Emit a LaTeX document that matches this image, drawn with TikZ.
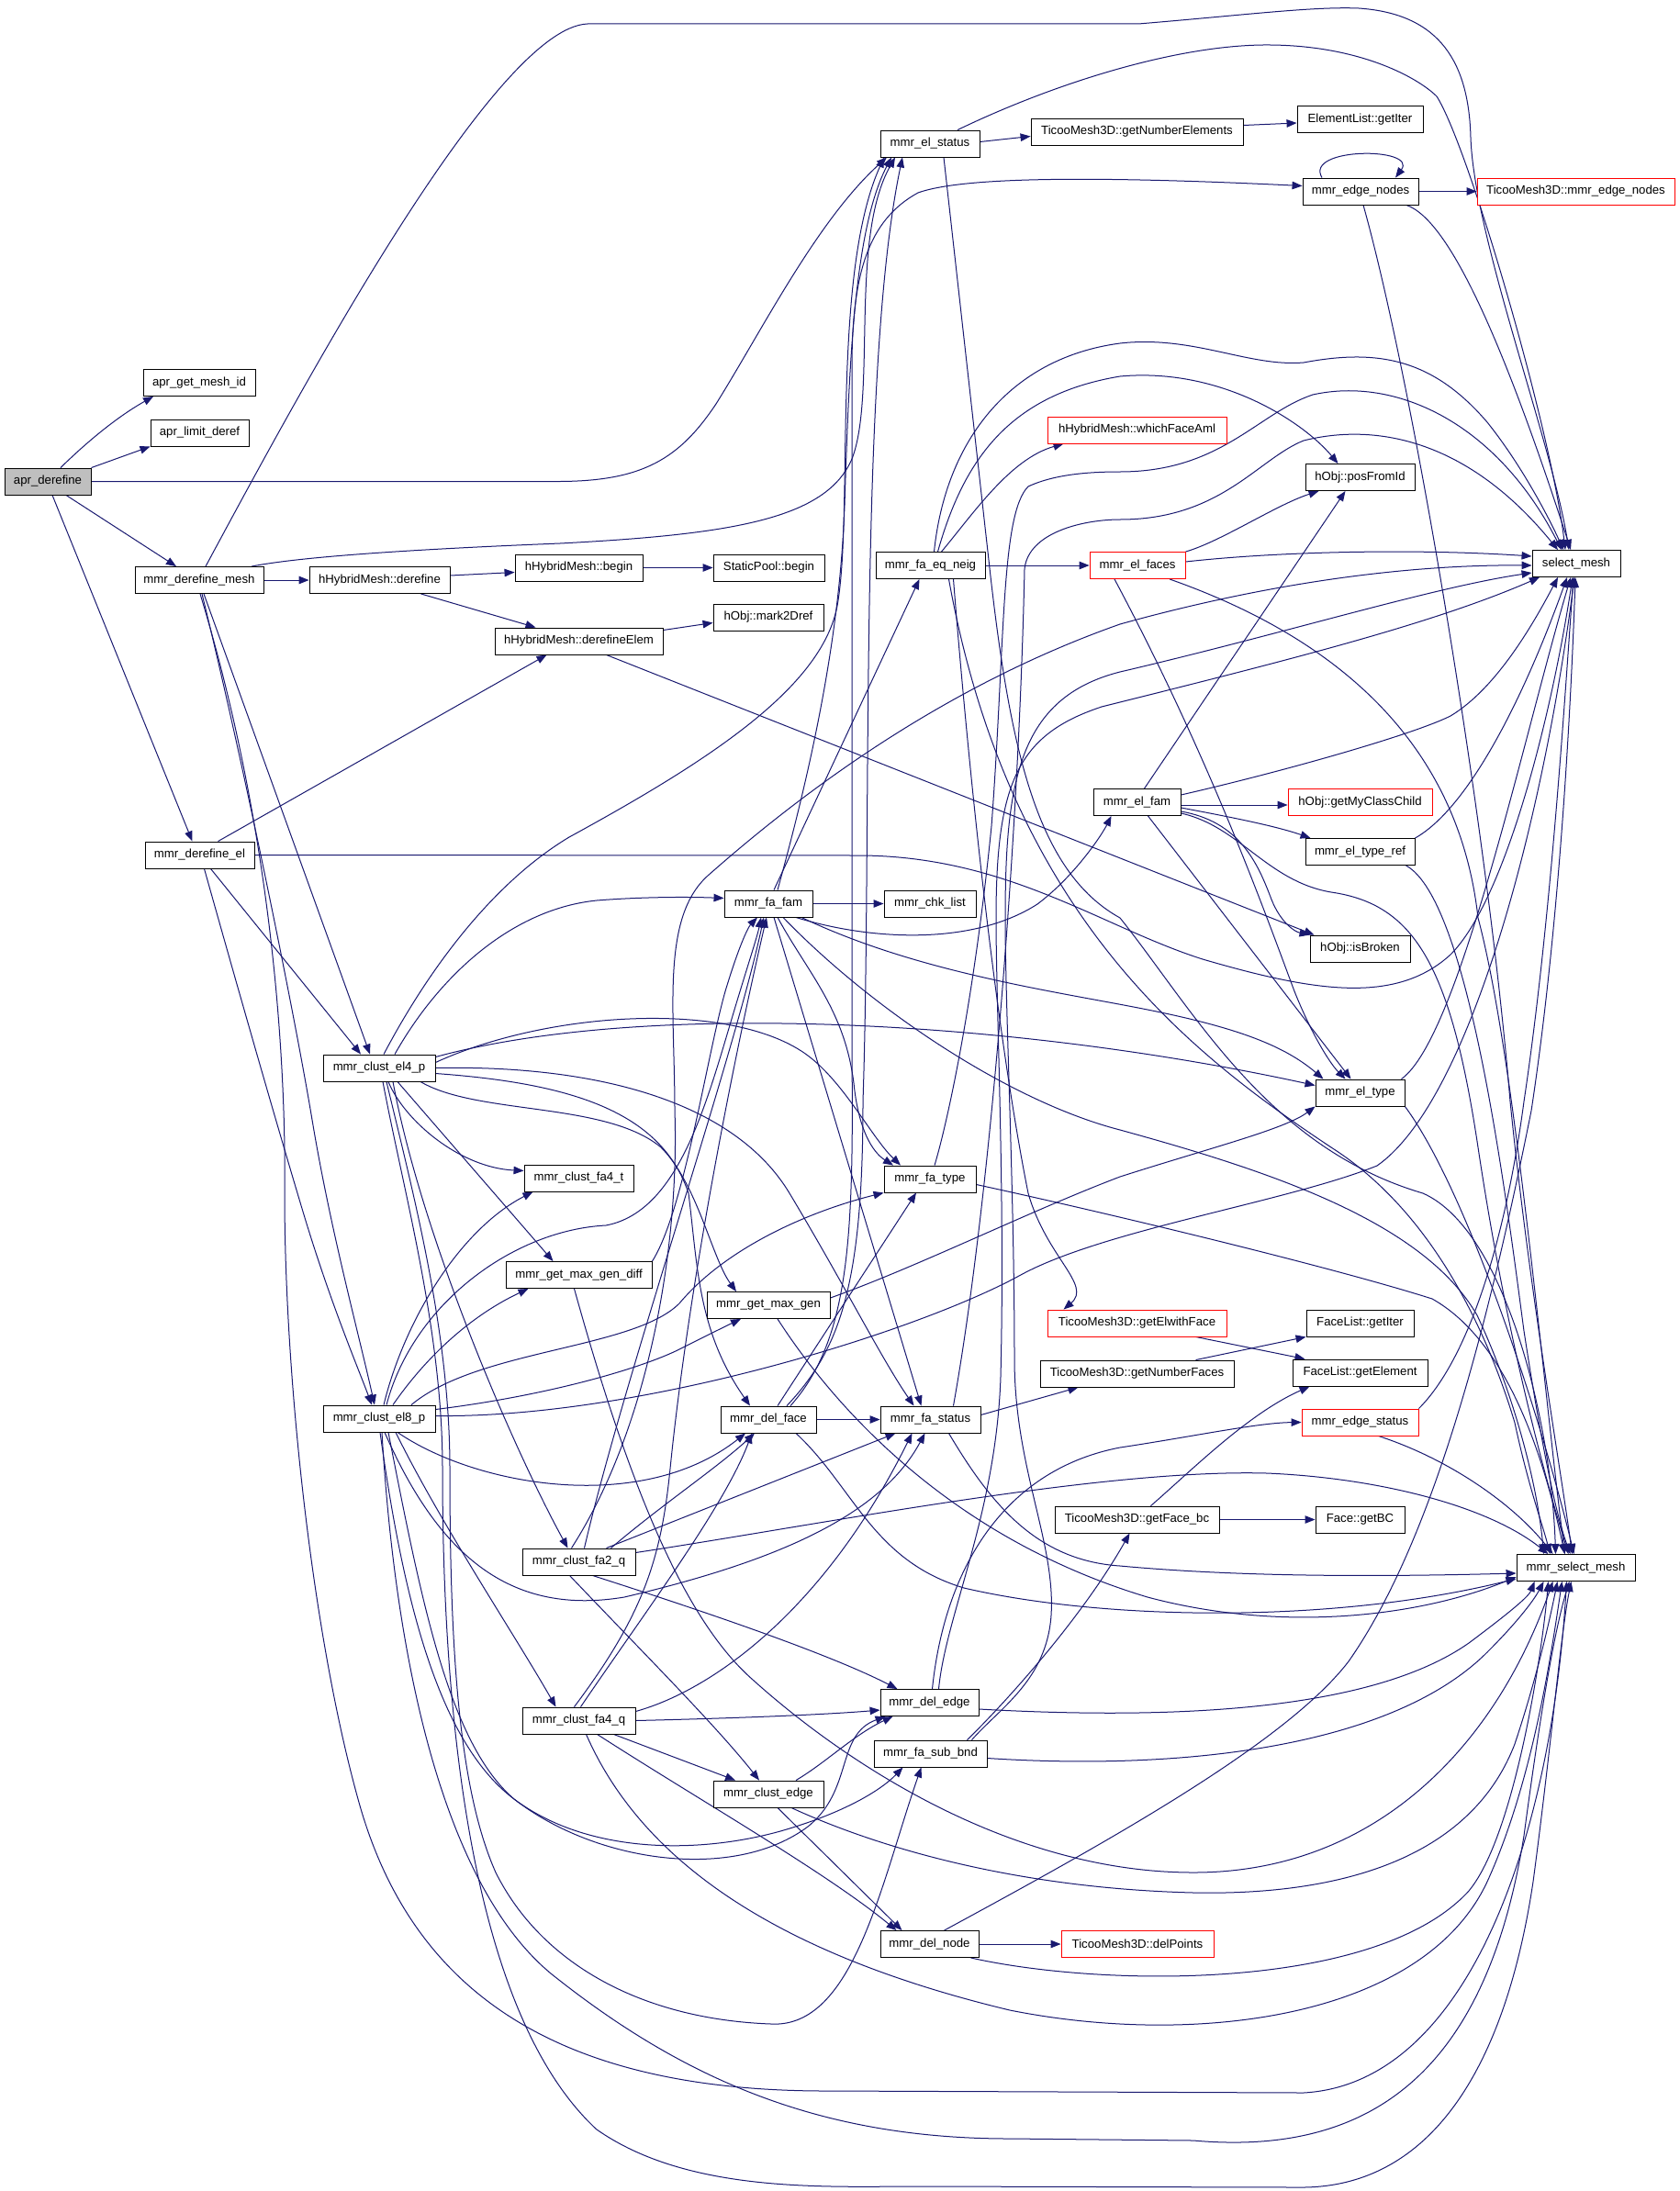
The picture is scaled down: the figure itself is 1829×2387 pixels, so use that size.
\documentclass[tikz,border=0pt]{standalone}
\usepackage{fontspec}
\setmainfont{Liberation Sans}
\usetikzlibrary{arrows.meta}
\pgfdeclarelayer{bg}
\pgfsetlayers{bg,main}
\definecolor{edgeblue}{RGB}{25,25,112}
\definecolor{rootgray}{RGB}{191,191,191}
\begin{document}
\begin{tikzpicture}[x=1pt,y=-1pt,
  nd/.style={draw=black, line width=0.9pt, fill=white, rectangle, minimum height=29pt, inner sep=0pt, font=\fontsize{13.2}{15}\selectfont},
  nr/.style={nd, draw=red},
  e/.style={draw=edgeblue, line width=1pt, -{Triangle[length=11pt,width=8.5pt]}}]
\useasboundingbox (0,0) rectangle (1829,2387);
% nodes
\node[nd, fill=rootgray, minimum width=94pt] (aprd) at (52,524.5) {apr\_derefine};
\node[nd, minimum width=122pt] (getid) at (217,417) {apr\_get\_mesh\_id};
\node[nd, minimum width=107pt] (limit) at (217.5,471.5) {apr\_limit\_deref};
\node[nd, minimum width=140pt] (dmesh) at (217,632) {mmr\_derefine\_mesh};
\node[nd, minimum width=153pt] (hderef) at (413.5,632) {hHybridMesh::derefine};
\node[nd, minimum width=139pt] (hbegin) at (630.5,618.5) {hHybridMesh::begin};
\node[nd, minimum width=121pt] (spbegin) at (837.5,618.5) {StaticPool::begin};
\node[nd, minimum width=183pt] (hderel) at (630.5,698.5) {hHybridMesh::derefineElem};
\node[nd, minimum width=120pt] (mark) at (837,672.5) {hObj::mark2Dref};
\node[nd, minimum width=119pt] (derel) at (217.5,931.5) {mmr\_derefine\_el};
\node[nd, minimum width=122pt] (el4p) at (413,1163.5) {mmr\_clust\_el4\_p};
\node[nd, minimum width=122pt] (el8p) at (413,1545.5) {mmr\_clust\_el8\_p};
\node[nd, minimum width=119pt] (fa4t) at (630.5,1283.5) {mmr\_clust\_fa4\_t};
\node[nd, minimum width=159pt] (mgdiff) at (630.5,1389) {mmr\_get\_max\_gen\_diff};
\node[nd, minimum width=123pt] (fa2q) at (630.5,1701.5) {mmr\_clust\_fa2\_q};
\node[nd, minimum width=123pt] (fa4q) at (630.5,1874.5) {mmr\_clust\_fa4\_q};
\node[nd, minimum width=108pt] (elstat) at (1013,156.5) {mmr\_el\_status};
\node[nd, minimum width=231pt] (gne) at (1238.5,143.5) {TicooMesh3D::getNumberElements};
\node[nd, minimum width=137pt] (eliter) at (1481.5,130) {ElementList::getIter};
\node[nd, minimum width=126pt] (edgen) at (1482,208.5) {mmr\_edge\_nodes};
\node[nr, minimum width=215pt] (tedgen) at (1716.5,208.5) {TicooMesh3D::mmr\_edge\_nodes};
\node[nr, minimum width=195pt] (wfa) at (1238.5,468.5) {hHybridMesh::whichFaceAml};
\node[nd, minimum width=119pt] (posid) at (1481.5,520) {hObj::posFromId};
\node[nd, minimum width=119pt] (faeq) at (1013.5,616) {mmr\_fa\_eq\_neig};
\node[nr, minimum width=104pt] (elfaces) at (1239,616) {mmr\_el\_faces};
\node[nd, minimum width=96pt] (selm) at (1717,614) {select\_mesh};
\node[nd, minimum width=95pt] (elfam) at (1238.5,874) {mmr\_el\_fam};
\node[nr, minimum width=157pt] (gmcc) at (1481.5,874) {hObj::getMyClassChild};
\node[nd, minimum width=119pt] (eltref) at (1481.5,928) {mmr\_el\_type\_ref};
\node[nd, minimum width=109pt] (isbr) at (1481.5,1033.5) {hObj::isBroken};
\node[nd, minimum width=96pt] (fafam) at (837,984.5) {mmr\_fa\_fam};
\node[nd, minimum width=100pt] (chk) at (1013,984.5) {mmr\_chk\_list};
\node[nd, minimum width=97pt] (eltype) at (1481.5,1190.5) {mmr\_el\_type};
\node[nd, minimum width=100pt] (fatype) at (1013,1284.5) {mmr\_fa\_type};
\node[nd, minimum width=134pt] (mgen) at (837,1422) {mmr\_get\_max\_gen};
\node[nr, minimum width=195pt] (gewf) at (1238.5,1441.5) {TicooMesh3D::getElwithFace};
\node[nd, minimum width=117pt] (fliter) at (1481.5,1441.5) {FaceList::getIter};
\node[nd, minimum width=211pt] (gnf) at (1238.5,1496.5) {TicooMesh3D::getNumberFaces};
\node[nd, minimum width=147pt] (flgel) at (1481.5,1495.5) {FaceList::getElement};
\node[nd, minimum width=104pt] (delface) at (837,1546.5) {mmr\_del\_face};
\node[nd, minimum width=109pt] (fastat) at (1013.5,1546.5) {mmr\_fa\_status};
\node[nr, minimum width=127pt] (edgest) at (1481.5,1549.5) {mmr\_edge\_status};
\node[nd, minimum width=179pt] (gfbc) at (1238.5,1655.5) {TicooMesh3D::getFace\_bc};
\node[nd, minimum width=97pt] (getbc) at (1481.5,1655.5) {Face::getBC};
\node[nd, minimum width=129pt] (mselm) at (1716.5,1708) {mmr\_select\_mesh};
\node[nd, minimum width=107pt] (deledge) at (1012.5,1855) {mmr\_del\_edge};
\node[nd, minimum width=123pt] (fasub) at (1013.5,1910.5) {mmr\_fa\_sub\_bnd};
\node[nd, minimum width=120pt] (cledge) at (837,1954.5) {mmr\_clust\_edge};
\node[nd, minimum width=107pt] (delnode) at (1012.5,2118) {mmr\_del\_node};
\node[nr, minimum width=166pt] (delpts) at (1239,2118) {TicooMesh3D::delPoints};

\begin{pgfonlayer}{bg}
\fill[white] (0,0) rectangle (1829,2387);
% apr_derefine
\draw[e] ([xshift=14pt]aprd.north) .. controls (92,484) and (126,455) .. ([xshift=-50pt]getid.south);
\draw[e] (aprd.north east) -- (limit.south west);
\draw[e] ([xshift=20pt]aprd.south) -- ([xshift=-25pt]dmesh.north);
\draw[e] ([xshift=5pt]aprd.south) -- ([xshift=-8pt]derel.north);
\draw[e] (aprd.east) -- (610,524.5) .. controls (700,524) and (740,500) .. (780,440) .. controls (830,360) and (890,240) .. ([xshift=-47pt]elstat.south);
% mmr_derefine_mesh
\draw[e] (dmesh.east) -- (hderef.west);
\draw[e] ([xshift=7pt]dmesh.north) .. controls (330,420) and (540,30) .. (640,26) -- (1240,26) .. controls (1360,16) and (1430,7) .. (1480,9) .. controls (1570,15) and (1600,70) .. (1602,150) .. controls (1606,260) and (1690,480) .. ([xshift=-8pt]selm.north);
\draw[e] ([xshift=57pt]dmesh.north) .. controls (330,606) and (460,598) .. (610,592) .. controls (800,582) and (900,565) .. (928,500) .. controls (955,430) and (925,260) .. ([xshift=-38pt]elstat.south);
\draw[e] ([xshift=5pt]dmesh.south) -- ([xshift=-10pt]el4p.north);
\draw[e] ([xshift=3pt]dmesh.south) .. controls (265,830) and (320,1100) .. (340,1220) .. controls (360,1340) and (390,1450) .. ([xshift=-5pt]el8p.north);
\draw[e] ([xshift=1pt]dmesh.south) .. controls (295,900) and (312,1150) .. (310,1300) .. controls (310,1500) and (340,1780) .. (390,1960) .. controls (450,2180) and (620,2278) .. (900,2278) -- (1420,2280) .. controls (1600,2270) and (1690,2000) .. ([xshift=-10pt]mselm.south);
% hHybridMesh
\draw[e] ([yshift=5pt]hderef.east) -- ([yshift=-5pt]hbegin.west);
\draw[e] ([xshift=45pt]hderef.south) -- ([xshift=-47pt]hderel.north);
\draw[e] (hbegin.east) -- (spbegin.west);
\draw[e] ([yshift=12pt]hderel.east) -- ([yshift=-6pt]mark.west);
\draw[e] ([xshift=30pt]hderel.south) -- ([xshift=5pt]isbr.north west);
% mmr_derefine_el
\draw[e] ([xshift=20pt]derel.north) -- ([xshift=-35pt]hderel.south);
\draw[e] ([xshift=12pt]derel.south) -- ([xshift=-20pt]el4p.north);
\draw[e] ([xshift=5pt]derel.south) .. controls (260,1080) and (300,1220) .. (330,1320) .. controls (360,1420) and (390,1490) .. ([xshift=-8pt]el8p.north);
\draw[e] (derel.east) -- (940,932) .. controls (1100,934) and (1200,1010) .. (1310,1045) .. controls (1430,1080) and (1520,1095) .. (1580,1040) .. controls (1640,980) and (1690,780) .. ([xshift=-4pt]selm.south);
% mmr_el_status
\draw[e] ([yshift=2pt]elstat.east) -- ([yshift=-5pt]gne.west);
\draw[e] ([xshift=30pt]elstat.north) .. controls (1150,90) and (1280,50) .. (1376,49) .. controls (1480,48) and (1545,85) .. (1565,105) .. controls (1600,160) and (1690,470) .. ([xshift=-12pt]selm.north);
\draw[e] ([xshift=15pt]elstat.south) -- (1077,610) .. controls (1100,820) and (1130,950) .. (1220,1000) .. controls (1300,1100) and (1380,1250) .. (1550,1300) .. controls (1640,1340) and (1690,1550) .. ([xshift=-22pt]mselm.north);
\draw[e] ([yshift=7pt]gne.east) -- ([yshift=-4pt]eliter.west);
% mmr_edge_nodes
\draw[e] ([xshift=-42pt]edgen.north) .. controls (1420,160) and (1545,160) .. ([xshift=38pt]edgen.north);
\draw[e] (edgen.east) -- (tedgen.west);
\draw[e] ([xshift=50pt]edgen.south) .. controls (1580,240) and (1640,380) .. ([xshift=-6pt]selm.north);
\draw[e] ([xshift=3pt]edgen.south) .. controls (1540,420) and (1620,900) .. (1645,1200) .. controls (1665,1400) and (1700,1600) .. ([xshift=-4pt]mselm.north);
% mmr_fa_eq_neig
\draw[e] (faeq.east) -- (elfaces.west);
\draw[e] ([xshift=12pt]faeq.north) .. controls (1060,560) and (1100,500) .. ([xshift=-80pt]wfa.south);
\draw[e] ([xshift=8pt]faeq.north) .. controls (1050,500) and (1100,430) .. (1220,410) .. controls (1330,400) and (1420,460) .. ([xshift=-24pt]posid.north);
\draw[e] ([xshift=4pt]faeq.north) .. controls (1030,480) and (1100,390) .. (1220,374) .. controls (1300,365) and (1360,400) .. (1420,395) .. controls (1500,380) and (1560,390) .. (1620,460) .. controls (1660,510) and (1690,570) .. ([xshift=-14pt]selm.north);
\draw[e] ([xshift=25pt]faeq.south) .. controls (1060,900) and (1090,1150) .. (1120,1300) .. controls (1140,1370) and (1190,1400) .. ([xshift=-80pt]gewf.north);
\draw[e] ([xshift=20pt]faeq.south) .. controls (1100,1000) and (1300,1150) .. (1450,1250) .. controls (1560,1320) and (1620,1450) .. (1650,1550) .. controls (1665,1620) and (1680,1660) .. ([xshift=-28pt]mselm.north);
% mmr_el_faces
\draw[e] (elfaces.north east) .. controls (1330,590) and (1390,550) .. ([xshift=-45pt]posid.south);
\draw[e] ([yshift=4pt]elfaces.east) .. controls (1400,600) and (1550,598) .. ([yshift=8pt]selm.west);
\draw[e] ([xshift=-25pt]elfaces.south) .. controls (1320,830) and (1380,1000) .. (1410,1080) .. controls (1430,1130) and (1450,1160) .. ([xshift=-16pt]eltype.north);
\draw[e] ([xshift=35pt]elfaces.south) .. controls (1470,700) and (1590,820) .. (1610,1000) .. controls (1650,1150) and (1680,1500) .. ([xshift=-12pt]mselm.north);
% mmr_el_fam
\draw[e] ([yshift=-3pt]elfam.east) -- ([yshift=-3pt]gmcc.west);
\draw[e] ([yshift=-6pt]elfam.east) .. controls (1340,890) and (1390,900) .. ([xshift=6pt]eltref.north west);
\draw[e] ([yshift=-10pt]elfam.east) .. controls (1350,895) and (1370,940) .. (1385,980) .. controls (1395,1005) and (1410,1015) .. (isbr.north west);
\draw[e] ([yshift=8pt]elfam.east) .. controls (1400,840) and (1540,800) .. (1580,780) .. controls (1630,750) and (1670,680) .. ([xshift=-20pt]selm.south);
\draw[e] ([xshift=8pt]elfam.north) -- ([xshift=-16pt]posid.south);
\draw[e] ([xshift=12pt]elfam.south) -- ([xshift=-10pt]eltype.north);
\draw[e] ([yshift=-12pt]elfam.east) .. controls (1350,900) and (1380,960) .. (1450,972) .. controls (1540,985) and (1580,1050) .. (1610,1250) .. controls (1640,1450) and (1680,1600) .. ([xshift=-8pt]mselm.north);
% mmr_el_type_ref, mmr_el_type
\draw[e] (eltref.north east) .. controls (1600,880) and (1660,760) .. ([xshift=-10pt]selm.south);
\draw[e] ([xshift=50pt]eltref.south) .. controls (1600,980) and (1640,1300) .. (1660,1450) .. controls (1680,1580) and (1695,1650) .. ([xshift=-6pt]mselm.north);
\draw[e] ([xshift=45pt]eltype.north) .. controls (1590,1130) and (1660,800) .. ([xshift=-6pt]selm.south);
\draw[e] (eltype.south east) .. controls (1600,1300) and (1680,1550) .. ([xshift=-2pt]mselm.north);
% mmr_fa_fam
\draw[e] (fafam.east) -- (chk.west);
\draw[e] ([xshift=6pt]fafam.north) -- ([xshift=-12pt]faeq.south);
\draw[e] ([xshift=10pt]fafam.north) .. controls (880,850) and (915,700) .. (920,550) .. controls (925,400) and (930,250) .. ([xshift=-42pt]elstat.south);
\draw[e] ([xshift=30pt]fafam.south) .. controls (950,1025) and (1060,1030) .. (1130,985) .. controls (1170,955) and (1200,910) .. ([xshift=-28pt]elfam.south);
\draw[e] ([xshift=36pt]fafam.south) .. controls (1000,1060) and (1150,1080) .. (1250,1100) .. controls (1350,1120) and (1400,1140) .. ([xshift=-40pt]eltype.north);
\draw[e] ([xshift=10pt]fafam.south) .. controls (880,1060) and (920,1100) .. (930,1180) .. controls (935,1230) and (950,1255) .. ([xshift=-40pt]fatype.north);
\draw[e] ([xshift=6pt]fafam.south) -- ([xshift=-10pt]fastat.north);
\draw[e] ([xshift=16pt]fafam.south) .. controls (950,1100) and (1100,1200) .. (1220,1231) .. controls (1380,1275) and (1550,1330) .. (1609,1433) .. controls (1650,1520) and (1675,1620) .. ([xshift=-35pt]mselm.north);
% mmr_clust_el4_p
\draw[e] ([xshift=5pt]el4p.north) .. controls (470,1050) and (540,960) .. (620,912) .. controls (770,830) and (895,750) .. (912,660) .. controls (930,560) and (905,300) .. ([xshift=-50pt]elstat.south);
\draw[e] ([xshift=17pt]el4p.north) .. controls (480,1060) and (560,990) .. (650,981) .. controls (700,977) and (750,977) .. ([yshift=6pt]fafam.west);
\draw[e] ([yshift=12pt]el4p.east) .. controls (700,1090) and (1100,1110) .. ([yshift=8pt]eltype.west);
\draw[e] ([yshift=6pt]el4p.east) .. controls (600,1100) and (800,1090) .. (880,1150) .. controls (920,1180) and (950,1240) .. ([xshift=-32pt]fatype.north);
\draw[e] ([xshift=45pt]el4p.south) .. controls (520,1215) and (660,1200) .. (720,1250) .. controls (760,1290) and (775,1370) .. ([xshift=-35pt]mgen.north);
\draw[e] ([yshift=-6pt]el4p.east) .. controls (620,1180) and (720,1210) .. (750,1300) .. controls (760,1380) and (760,1450) .. ([xshift=-20pt]delface.north);
\draw[e] (el4p.east) .. controls (650,1160) and (800,1200) .. (860,1300) .. controls (920,1400) and (960,1480) .. ([xshift=-18pt]fastat.north);
\draw[e] ([xshift=10pt]el4p.south) .. controls (440,1220) and (500,1272) .. ([yshift=8pt]fa4t.west);
\draw[e] ([xshift=20pt]el4p.south) -- ([xshift=-28pt]mgdiff.north);
\draw[e] ([xshift=15pt]el4p.south) .. controls (460,1350) and (560,1580) .. ([xshift=-12pt]fa2q.north);
\draw[e] ([xshift=8pt]el4p.south) .. controls (450,1300) and (490,1450) .. (490,1600) .. controls (490,1800) and (500,1950) .. (540,2040) .. controls (590,2140) and (700,2200) .. (840,2205) .. controls (930,2210) and (960,2050) .. ([xshift=-10pt]fasub.south);
\draw[e] ([xshift=4pt]el4p.south) .. controls (440,1300) and (482,1450) .. (482,1600) .. controls (482,1900) and (520,2200) .. (650,2320) .. controls (750,2390) and (900,2382) .. (1000,2382) -- (1414,2383) .. controls (1560,2385) and (1640,2250) .. (1670,2050) .. controls (1690,1900) and (1700,1780) .. ([xshift=-5pt]mselm.south);
% mmr_clust_el8_p
\draw[e] ([xshift=5pt]el8p.north) .. controls (440,1440) and (500,1340) .. ([xshift=-50pt]fa4t.south);
\draw[e] ([xshift=15pt]el8p.north) .. controls (470,1470) and (520,1430) .. ([xshift=-55pt]mgdiff.south);
\draw[e] ([xshift=8pt]el8p.north) .. controls (450,1420) and (560,1340) .. (660,1335) .. controls (740,1320) and (770,1200) .. (800,1100) .. controls (815,1050) and (825,1020) .. ([xshift=-8pt]fafam.south);
\draw[e] ([xshift=35pt]el8p.north) .. controls (520,1470) and (690,1470) .. (740,1420) .. controls (790,1360) and (880,1320) .. (fatype.south west);
\draw[e] ([yshift=10pt]el8p.east) .. controls (600,1520) and (700,1490) .. (740,1470) .. controls (770,1455) and (790,1445) .. ([xshift=-30pt]mgen.south);
\draw[e] ([yshift=3pt]el8p.east) .. controls (700,1545) and (1000,1450) .. (1110,1390) .. controls (1200,1340) and (1400,1310) .. (1500,1270) .. controls (1600,1200) and (1680,900) .. ([xshift=-2pt]selm.south);
\draw[e] ([xshift=20pt]el8p.south) .. controls (520,1620) and (700,1650) .. ([xshift=-25pt]delface.south);
\draw[e] ([xshift=6pt]el8p.south) .. controls (480,1700) and (560,1760) .. (680,1740) .. controls (850,1700) and (960,1650) .. ([xshift=-6pt]fastat.south);
\draw[e] ([xshift=18pt]el8p.south) .. controls (480,1660) and (560,1780) .. ([xshift=-25pt]fa4q.north);
\draw[e] ([xshift=1pt]el8p.south) .. controls (440,1750) and (480,1900) .. (560,1960) .. controls (650,2030) and (800,2050) .. (880,1990) .. controls (930,1950) and (910,1890) .. ([xshift=-48pt]deledge.south);
\draw[e] ([xshift=10pt]el8p.south) .. controls (460,1750) and (490,1900) .. (560,1960) .. controls (640,2020) and (760,2020) .. (850,1995) .. controls (920,1975) and (960,1950) .. ([xshift=-30pt]fasub.south);
\draw[e] ([xshift=3pt]el8p.south) .. controls (430,1800) and (480,2050) .. (600,2150) .. controls (750,2270) and (900,2330) .. (1100,2330) -- (1300,2332) .. controls (1500,2350) and (1620,2250) .. (1660,2000) .. controls (1680,1850) and (1695,1770) .. ([xshift=-7pt]mselm.south);
% mmr_get_max_gen_diff
\draw[e] (mgdiff.north east) .. controls (745,1320) and (770,1150) .. (790,1080) .. controls (805,1030) and (815,1010) .. ([xshift=-12pt]fafam.south);
\draw[e] ([xshift=-5pt]mgdiff.south) .. controls (680,1600) and (740,1760) .. (820,1830) .. controls (920,1920) and (1100,2040) .. (1300,2040) .. controls (1500,2040) and (1630,1900) .. ([xshift=-25pt]mselm.south);
% mmr_clust_fa2_q
\draw[e] ([xshift=6pt]fa2q.north) .. controls (680,1500) and (800,1150) .. ([xshift=-5pt]fafam.south);
\draw[e] ([xshift=35pt]fa2q.north) .. controls (720,1640) and (780,1600) .. ([xshift=-15pt]delface.south);
\draw[e] ([xshift=30pt]fa2q.north) -- ([xshift=-38pt]fastat.south);
\draw[e] ([yshift=10pt]fa2q.east) .. controls (900,1660) and (1200,1600) .. (1380,1605) .. controls (1500,1610) and (1620,1640) .. ([xshift=-30pt]mselm.north);
\draw[e] ([xshift=-10pt]fa2q.south) .. controls (700,1800) and (780,1880) .. ([xshift=-10pt]cledge.north);
\draw[e] ([xshift=15pt]fa2q.south) .. controls (750,1750) and (900,1800) .. ([xshift=-35pt]deledge.north);
\draw[e] ([xshift=-8pt]fa2q.north) .. controls (710,1550) and (740,1350) .. (735,1210) .. controls (735,1100) and (720,1000) .. (771,954) .. controls (900,840) and (1050,740) .. (1220,680) .. controls (1400,630) and (1550,615) .. ([yshift=-2pt]selm.west);
% mmr_clust_fa4_q
\draw[e] ([xshift=-5pt]fa4q.north) .. controls (700,1760) and (720,1700) .. (730,1600) .. controls (750,1400) and (800,1150) .. ([xshift=-2pt]fafam.south);
\draw[e] ([xshift=2pt]fa4q.north) .. controls (700,1760) and (790,1640) .. ([xshift=-18pt]delface.south);
\draw[e] ([yshift=10pt]fa4q.east) .. controls (780,1840) and (900,1750) .. ([xshift=-20pt]fastat.south);
\draw[e] (fa4q.east) .. controls (800,1872) and (900,1868) .. ([yshift=-8pt]deledge.west);
\draw[e] ([xshift=38pt]fa4q.south) -- ([xshift=-36pt]cledge.north);
\draw[e] ([xshift=20pt]fa4q.south) .. controls (760,1960) and (900,2040) .. ([xshift=-36pt]delnode.north);
\draw[e] ([xshift=8pt]fa4q.south) .. controls (700,2030) and (850,2130) .. (1100,2190) .. controls (1300,2230) and (1550,2200) .. (1620,2050) .. controls (1670,1940) and (1690,1800) .. ([xshift=-15pt]mselm.south);
% mmr_del_face
\draw[e] (delface.east) -- (fastat.west);
\draw[e] ([xshift=10pt]delface.north) -- ([xshift=-15pt]fatype.south);
\draw[e] ([xshift=20pt]delface.north) .. controls (915,1470) and (940,1400) .. (940,1200) .. controls (950,900) and (935,400) .. ([xshift=-30pt]elstat.south);
\draw[e] ([xshift=24pt]delface.north) .. controls (925,1460) and (930,1350) .. (928,1150) -- (928,400) .. controls (928,300) and (945,240) .. (1000,210) .. controls (1050,192) and (1200,192) .. ([yshift=6pt]edgen.west);
\draw[e] ([xshift=30pt]delface.south) .. controls (930,1620) and (950,1700) .. (1050,1730) .. controls (1200,1765) and (1450,1770) .. ([yshift=3pt]mselm.south west);
% mmr_fa_status, mmr_fa_type
\draw[e] ([yshift=5pt]fastat.east) -- ([xshift=-64pt]gnf.south);
\draw[e] ([xshift=20pt]fastat.south) .. controls (1080,1640) and (1130,1700) .. (1220,1706) .. controls (1350,1718) and (1500,1718) .. ([yshift=-6pt]mselm.west);
\draw[e] ([xshift=25pt]fastat.north) .. controls (1080,1300) and (1110,900) .. (1116,620) .. controls (1120,580) and (1180,566) .. (1220,566) .. controls (1330,566) and (1370,500) .. (1420,480) .. controls (1500,460) and (1600,480) .. ([xshift=-20pt]selm.north);
\draw[e] ([xshift=5pt]fatype.north) .. controls (1030,1230) and (1060,1100) .. (1080,900) .. controls (1095,700) and (1090,560) .. (1120,530) .. controls (1150,516) and (1190,514) .. (1220,514) .. controls (1330,514) and (1370,450) .. (1430,430) .. controls (1520,410) and (1630,460) .. ([xshift=-16pt]selm.north);
\draw[e] ([yshift=-6pt]fatype.east) .. controls (1200,1320) and (1450,1380) .. (1560,1415) .. controls (1640,1460) and (1680,1580) .. ([xshift=-12pt]mselm.north);
% mmr_get_max_gen
\draw[e] ([yshift=8pt]mgen.east) .. controls (1000,1380) and (1120,1320) .. (1220,1282) .. controls (1320,1250) and (1400,1230) .. (eltype.south west);
\draw[e] ([xshift=10pt]mgen.south) .. controls (920,1550) and (1050,1680) .. (1250,1740) .. controls (1400,1780) and (1550,1760) .. ([yshift=-10pt]mselm.west);
% mmr_del_edge
\draw[e] ([xshift=3pt]deledge.north) .. controls (1030,1700) and (1100,1600) .. (1220,1577) .. controls (1300,1565) and (1370,1550) .. (edgest.west);
\draw[e] ([yshift=-7pt]deledge.east) .. controls (1300,1875) and (1500,1860) .. (1600,1790) .. controls (1640,1760) and (1665,1740) .. ([xshift=-45pt]mselm.south);
\draw[e] ([xshift=10pt]deledge.north) .. controls (1030,1760) and (1085,1650) .. (1090,1500) .. controls (1095,1300) and (1085,1100) .. (1085,1000) .. controls (1085,850) and (1110,800) .. (1200,770) .. controls (1400,720) and (1560,680) .. ([xshift=-40pt]selm.south);
% mmr_fa_sub_bnd
\draw[e] ([xshift=40pt]fasub.north) .. controls (1100,1850) and (1180,1760) .. ([xshift=-8pt]gfbc.south);
\draw[e] ([yshift=-5pt]fasub.east) .. controls (1300,1930) and (1520,1900) .. (1620,1800) .. controls (1650,1770) and (1670,1745) .. ([xshift=-35pt]mselm.south);
\draw[e] ([xshift=45pt]fasub.north) .. controls (1090,1860) and (1140,1830) .. (1145,1760) .. controls (1150,1680) and (1105,1600) .. (1105,1480) .. controls (1105,1300) and (1095,1100) .. (1095,1000) .. controls (1095,850) and (1110,760) .. (1220,732) .. controls (1400,690) and (1560,640) .. ([yshift=-10pt]selm.west);
% mmr_clust_edge
\draw[e] ([xshift=30pt]cledge.north) .. controls (900,1920) and (930,1890) .. ([xshift=-40pt]deledge.south);
\draw[e] ([xshift=10pt]cledge.south) -- ([xshift=-30pt]delnode.north);
\draw[e] ([xshift=25pt]cledge.south) .. controls (950,2010) and (1100,2057) .. (1300,2062) .. controls (1450,2065) and (1600,2030) .. (1650,1900) .. controls (1670,1840) and (1685,1780) .. ([xshift=-20pt]mselm.south);
% mmr_del_node
\draw[e] (delnode.east) -- (delpts.west);
\draw[e] ([xshift=16pt]delnode.north) .. controls (1200,2010) and (1400,1900) .. (1469,1810) .. controls (1560,1680) and (1620,1450) .. (1668,1210) .. controls (1700,1000) and (1712,750) .. ([xshift=-1pt]selm.south);
\draw[e] ([xshift=45pt]delnode.south) .. controls (1200,2165) and (1500,2170) .. (1600,2060) .. controls (1650,2000) and (1680,1800) .. ([xshift=-30pt]mselm.south);
% mmr_edge_status
\draw[e] (edgest.north east) .. controls (1600,1480) and (1640,1350) .. (1660,1200) .. controls (1690,1000) and (1705,750) .. ([xshift=-3pt]selm.south);
\draw[e] ([xshift=20pt]edgest.south) .. controls (1580,1590) and (1650,1640) .. ([xshift=-25pt]mselm.north);
% face lists
\draw[e] ([xshift=64pt]gewf.south) -- ([xshift=-60pt]flgel.north);
\draw[e] ([xshift=64pt]gnf.north) -- (fliter.south west);
\draw[e] (gfbc.east) -- (getbc.west);
\draw[e] ([xshift=15pt]gfbc.north) .. controls (1300,1600) and (1360,1540) .. ([xshift=-55pt]flgel.south);
\end{pgfonlayer}
\end{tikzpicture}
\end{document}
